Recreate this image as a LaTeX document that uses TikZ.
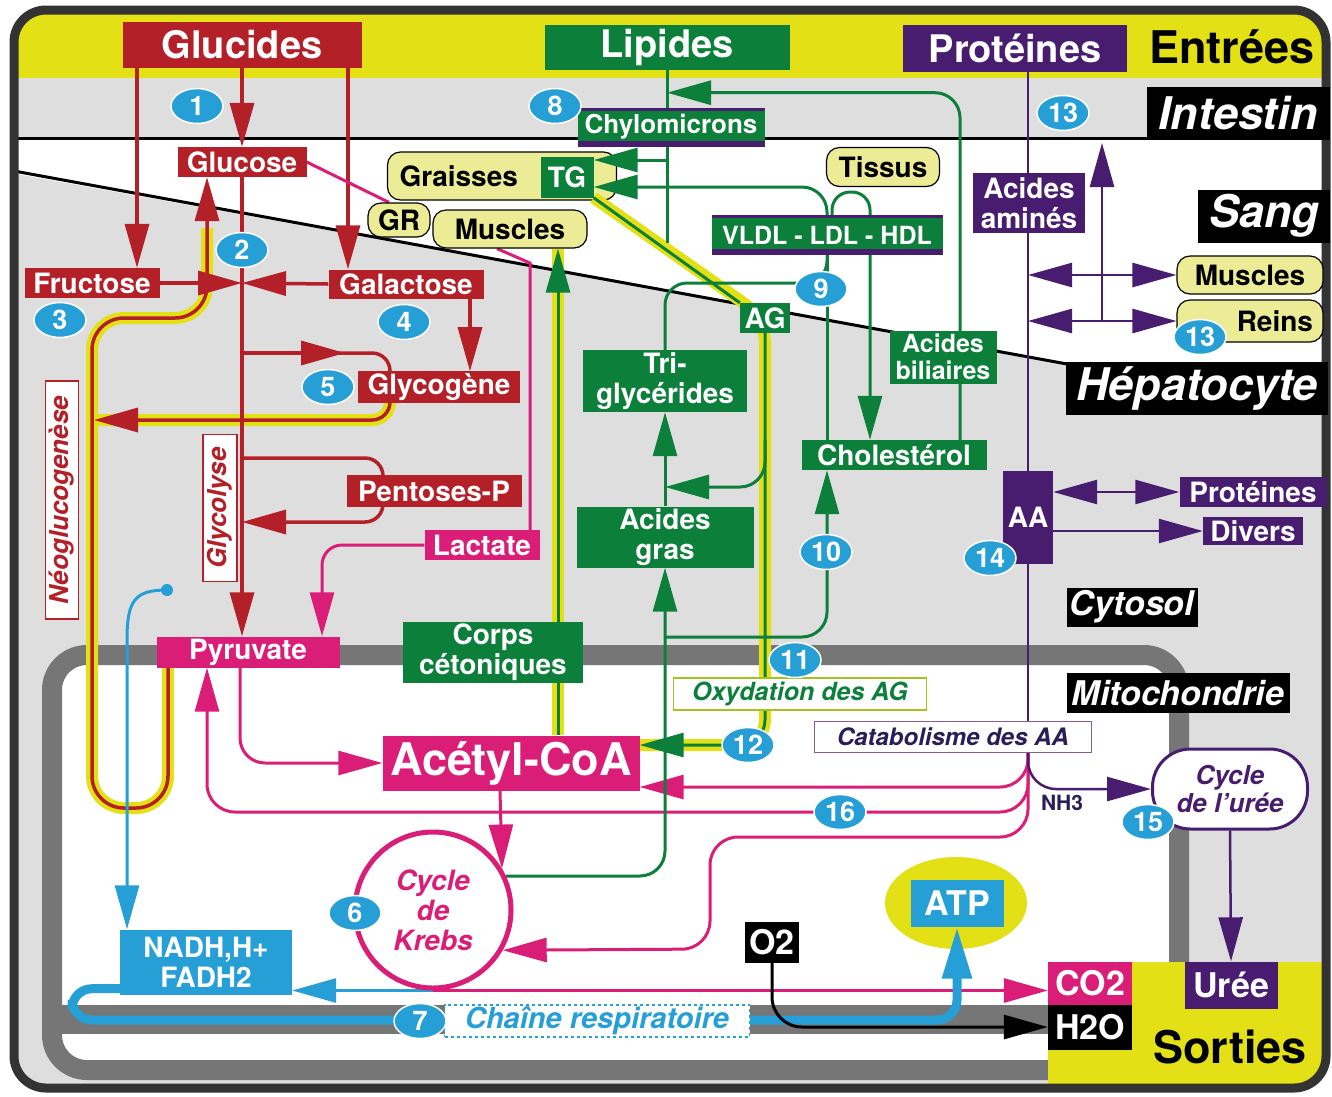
\documentclass[tikz,border=0pt]{standalone}
\usepackage{fontspec}
\setmainfont{TeX Gyre Heros}
\usetikzlibrary{shapes,arrows.meta,backgrounds,positioning}

\definecolor{glred}{RGB}{180,32,40}
\definecolor{lipgreen}{RGB}{12,128,58}
\definecolor{protpurple}{RGB}{72,28,110}
\definecolor{magent}{RGB}{218,30,120}
\definecolor{numblue}{RGB}{38,158,214}
\definecolor{bandyellow}{RGB}{228,224,22}
\definecolor{paleyellow}{RGB}{236,236,150}
\definecolor{cytogrey}{RGB}{222,222,222}
\definecolor{membgrey}{RGB}{118,118,118}
\definecolor{navy}{RGB}{40,30,90}

\newcommand{\ftitle}{\fontsize{38}{40}\selectfont\bfseries}
\newcommand{\fbig}{\fontsize{45}{47}\selectfont\bfseries}
\newcommand{\fzone}{\fontsize{45}{47}\selectfont\bfseries\itshape}
\newcommand{\fcomp}{\fontsize{34}{36}\selectfont\bfseries\itshape}
\newcommand{\fmid}{\fontsize{34}{36}\selectfont\bfseries}
\newcommand{\flab}{\fontsize{28}{30}\selectfont\bfseries}
\newcommand{\flipo}{\fontsize{25}{27}\selectfont\bfseries}
\newcommand{\fproc}{\fontsize{25}{27}\selectfont\bfseries\itshape}
\newcommand{\fvert}{\fontsize{26}{28}\selectfont\bfseries\itshape}
\newcommand{\fkrebs}{\fontsize{28}{30}\selectfont\bfseries\itshape}
\newcommand{\fnum}{\fontsize{27}{27}\selectfont\bfseries}
\newcommand{\fnh}{\fontsize{21}{23}\selectfont\bfseries}

\pgfdeclarelayer{bg}
\pgfdeclarelayer{lines}
\pgfsetlayers{bg,lines,main}

\tikzstyle{box} = [rectangle, inner sep=2pt, text=white, align=center, font=\flab]
\tikzstyle{GL} = [box, fill=glred]
\tikzstyle{LI} = [box, fill=lipgreen]
\tikzstyle{LIPO} = [LI, font=\flipo, path picture={
    \fill[protpurple] (path picture bounding box.north west) rectangle ([yshift=-3pt]path picture bounding box.north east);
    \fill[protpurple] ([yshift=6pt]path picture bounding box.south west) rectangle (path picture bounding box.south east);}]
\tikzstyle{PR} = [box, fill=protpurple]
\tikzstyle{MA} = [box, fill=magent]
\tikzstyle{BL} = [box, fill=numblue]
\tikzstyle{BK} = [box, fill=black]
\tikzstyle{zone} = [box, fill=black, font=\fzone]
\tikzstyle{compart} = [box, fill=black, font=\fcomp]
\tikzstyle{organ} = [rectangle, rounded corners=13pt, draw=black, line width=1.2pt,
    fill=paleyellow, font=\flab, inner sep=2pt]
\tikzstyle{num} = [ellipse, fill=numblue, draw=white, line width=1.5pt, text=white,
    font=\fnum, minimum width=52pt, minimum height=35pt, inner sep=0pt]
\tikzstyle{tag} = [rectangle, fill=white, line width=1.2pt, inner sep=2pt]
\tikzstyle{line} = [draw, line width=3pt, -{Triangle[length=44pt,width=24pt]}]
\tikzstyle{rline} = [line, glred, line width=3.5pt]
\tikzstyle{gline} = [line, lipgreen]
\tikzstyle{pline} = [line, protpurple, line width=2.5pt]
\tikzstyle{dline} = [pline, {Triangle[length=44pt,width=24pt]}-{Triangle[length=44pt,width=24pt]}]
\tikzstyle{mline} = [line, magent]
\tikzstyle{bline} = [line, numblue]
\tikzstyle{kline} = [line, black]
\tikzstyle{hl} = [draw, bandyellow, line width=12pt]

\begin{document}
\begin{tikzpicture}[x=1pt, y=-1pt]
\useasboundingbox (0,0) rectangle (1332,1096);

 \node at (242,45) [GL, font=\ftitle, minimum width=239pt, minimum height=46pt, name=glucides] {Glucides};
 \node at (667,47) [LI, font=\ftitle, minimum width=245pt, minimum height=45pt, name=lipides] {Lipides};
 \node at (1015,48) [PR, font=\ftitle, minimum width=224pt, minimum height=47pt, name=proteines] {Protéines};
 \node at (1232,47) [font=\fbig, name=entrees] {Entrées};
 \node at (1238,113) [zone, minimum width=183pt, minimum height=53pt, name=intestin] {Intestin};
 \node at (1264,216) [zone, minimum width=132pt, minimum height=53pt, name=sang] {Sang};
 \node at (1197,388) [zone, minimum width=262pt, minimum height=53pt, name=hepato] {Hépatocyte};
 \node at (1132,607) [compart, minimum width=131pt, minimum height=39pt, name=cytosol] {Cytosol};
 \node at (1178,693) [compart, minimum width=223pt, minimum height=40pt, name=mito] {Mitochondrie};
 \node at (1230,1047) [font=\fbig, name=sorties] {Sorties};

 \node at (242,162) [GL, minimum width=129pt, minimum height=30pt, name=glucose] {Glucose};
 \node at (92,283) [GL, minimum width=135pt, minimum height=30pt, name=fructose] {Fructose};
 \node at (406,284) [GL, minimum width=155pt, minimum height=29pt, name=galacto] {Galactose};
 \node at (439,387) [GL, minimum width=162pt, minimum height=30pt, name=glycogene] {Glycogène};
 \node at (434,491) [GL, minimum width=175pt, minimum height=32pt, name=pentoses] {Pentoses-P};
 \node at (482,545) [MA, minimum width=115pt, minimum height=30pt, name=lactate] {Lactate};
 \node at (248,652) [MA, minimum width=183pt, minimum height=31pt, name=pyruvate] {Pyruvate};
 \node at (62,500) [tag, rotate=90, draw=glred, text=glred, font=\fvert, minimum width=238pt, minimum height=33pt, name=neo] {Néoglucogenèse};
 \node at (220,508) [tag, rotate=90, draw=glred, text=glred, font=\fvert, minimum width=147pt, minimum height=34pt, name=glyco] {Glycolyse};

 \node at (567,177) [LI, minimum width=53pt, minimum height=41pt, name=tg] {TG};
 \node at (399,220) [organ, minimum width=62pt, minimum height=34pt, name=gr] {GR};
 \node at (510,229) [organ, minimum width=154pt, minimum height=38pt, name=musclesg] {Muscles};
 \node at (671,127) [LIPO, font=\fontsize{26}{28}\selectfont\bfseries, minimum width=187pt, minimum height=39pt, name=chylo] {Chylomicrons};
 \node at (883,167) [organ, minimum width=113pt, minimum height=39pt, name=tissus] {Tissus};
 \node at (827,235) [LIPO, minimum width=231pt, minimum height=40pt, name=vldl] {VLDL - LDL - HDL};
 \node at (765,318) [LI, minimum width=50pt, minimum height=30pt, name=ag] {AG};
 \node at (665,381) [LI, minimum width=164pt, minimum height=62pt, name=trigly] {Tri-\\glycérides};
 \node at (665,537) [LI, minimum width=177pt, minimum height=61pt, name=acgras] {Acides\\gras};
 \node at (493,652) [LI, minimum width=180pt, minimum height=61pt, name=corps] {Corps\\cétoniques};
 \node at (894,455) [LI, minimum width=185pt, minimum height=30pt, name=chol] {Cholestérol};
 \node at (943,357) [LI, font=\flipo, minimum width=107pt, minimum height=53pt, name=biliaires] {Acides\\biliaires};

 \node at (1029,203) [PR, minimum width=112pt, minimum height=60pt, name=acam] {Acides\\aminés};
 \node at (1250,275) [organ, minimum width=146pt, minimum height=38pt, name=musclesd] {Muscles};
 \node at (1250,321) [organ, text width=126pt, inner xsep=10pt, align=right, minimum height=42pt, name=reins] {Reins};
 \node at (1028,517) [PR, minimum width=50pt, minimum height=93pt, name=aa] {AA};
 \node at (1253,492) [PR, minimum width=147pt, minimum height=30pt, name=protd] {Protéines};
 \node at (1253,531) [PR, minimum width=100pt, minimum height=28pt, name=divers] {Divers};
 \node at (953,737) [tag, draw=protpurple!70, text=navy, font=\fontsize{24}{26}\selectfont\bfseries\itshape, minimum width=277pt, minimum height=31pt, name=catab] {Catabolisme des AA};
 \node at (800,694) [tag, draw=bandyellow!70!lipgreen, text=lipgreen, font=\fproc, minimum width=253pt, minimum height=32pt, name=oxyd] {Oxydation des AG};
 \node at (1230,789) [rectangle, rounded corners=38pt, draw=protpurple, line width=3pt, fill=white, minimum width=155pt, minimum height=80pt, align=center, text=protpurple, font=\fontsize{26}{28}\selectfont\bfseries\itshape, name=cycuree] {Cycle\\de l'urée};
 \node at (1062,803) [font=\fnh, text=navy, name=nh3] {NH3};

 \node at (511,763) [MA, font=\fbig, minimum width=257pt, minimum height=55pt, name=acetyl] {Acétyl-CoA};
 \node at (433,910) [circle, draw=magent, line width=5pt, fill=white, minimum size=156pt, align=center, text=magent, font=\fkrebs, name=krebs] {Cycle\\de\\Krebs};
 \node at (206,962) [BL, minimum width=172pt, minimum height=65pt, name=nadh] {NADH,H+\\FADH2};
 \node at (597,1021) [tag, draw=numblue, dashed, text=numblue, font=\fontsize{29}{31}\selectfont\bfseries\itshape, minimum width=305pt, minimum height=32pt, name=chaine] {Chaîne respiratoire};
 \node at (957,903) [BL, font=\fmid, minimum width=93pt, minimum height=47pt, name=atp] {ATP};
 \node at (772,942) [BK, font=\fmid, minimum width=54pt, minimum height=41pt, name=o2] {O2};
 \node at (1090,983) [MA, font=\fmid, minimum width=84pt, minimum height=43pt, name=co2] {CO2};
 \node at (1090,1027) [BK, font=\fmid, minimum width=84pt, minimum height=45pt, name=h2o] {H2O};
 \node at (1231,985) [PR, font=\fmid, minimum width=93pt, minimum height=47pt, name=uree] {Urée};

 \node at (197,106) [num, name=n1] {1};
 \node at (242,250) [num, name=n2] {2};
 \node at (60,320) [num, name=n3] {3};
 \node at (404,322) [num, name=n4] {4};
 \node at (328,387) [num, name=n5] {5};
 \node at (355,913) [num, name=n6] {6};
 \node at (420,1021) [num, name=n7] {7};
 \node at (555,106) [num, name=n8] {8};
 \node at (821,289) [num, name=n9] {9};
 \node at (826,552) [num, name=n10] {10};
 \node at (795,660) [num, name=n11] {11};
 \node at (748,745) [num, name=n12] {12};
 \node at (1063,113) [num, name=n13a] {13};
 \node at (1200,337) [num, name=n13b] {13};
 \node at (990,558) [num, name=n14] {14};
 \node at (1148,822) [num, name=n15] {15};
 \node at (840,812) [num, name=n16] {16};

 \coordinate (jct) at (242,283);
 \coordinate (glyg) at (242,353);
 \coordinate (glygtip) at (345,353);
 \coordinate (pent1) at (242,458);
 \coordinate (pent2) at (242,522);
 \coordinate (neox) at (94,420);
 \coordinate (bdot) at (167,590);
 \coordinate (agb) at (765,440);
 \coordinate (tgfa) at (665,487);
 \coordinate (fachol) at (665,637);
 \coordinate (lipend) at (667,243);
 \coordinate (int13) at (1102,143);
 \coordinate (cata) at (aa.south |- catab.south);

\begin{pgfonlayer}{bg}
 \begin{scope}
  \clip [rounded corners=32pt] (14,10) rectangle (1326,1088);
  \fill [cytogrey] (0,0) rectangle (1332,1096);
  \fill [bandyellow] (0,0) rectangle (1332,78);
  \fill [white] (0,140) -- (1332,140) -- (1332,363) -- (1065,363) -- (0,171) -- cycle;
  \draw [membgrey, line width=20pt, fill=white, rounded corners=35pt] (52,655) rectangle (1179,1070);
  \fill [membgrey] (62,1005) rectangle (1050,1034);
  \fill [bandyellow] (1048,962) rectangle (1332,1096);
 \end{scope}
 \draw [line width=3pt] (14,138) -- (1326,138);
 \draw [line width=3pt] (14,171) -- (1067,364);
 \draw [black!80, line width=9pt, rounded corners=32pt] (14,10) rectangle (1326,1088);
 \node at (956,903) [ellipse, fill=bandyellow, minimum width=142pt, minimum height=92pt, name=atpell] {};
 \node at (502,176) [organ, text width=205pt, inner xsep=12pt, align=left, minimum height=48pt, name=graisses] {Graisses};
\end{pgfonlayer}

\begin{pgfonlayer}{lines}
 \path [hl, rounded corners=32pt] ([xshift=-80pt]pyruvate.south) -- (168,808) -- (92,808) -- (92,318) -- (207,318) -- (207,228);
 \path [hl, rounded corners=18pt] ([xshift=-49pt]glycogene.south) |- (neox);
 \path [hl, rounded corners=25pt] (tg.south east) -- (ag.center) |- ([yshift=18pt]acetyl.east);
 \path [hl] ([xshift=47pt]acetyl.north) -- ([xshift=47pt]acetyl.north |- musclesg.south);

 \path [rline] ([xshift=45pt]fructose.north |- glucides.south) -- ([xshift=45pt]fructose.north);
 \path [rline] (glucides.south) -- (glucose.north);
 \path [rline] ([xshift=-58pt]galacto.north |- glucides.south) -- ([xshift=-58pt]galacto.north);
 \path [rline] (glucose.south) -- (glucose.south |- pyruvate.north);
 \path [rline] (fructose.east) -- (jct);
 \path [rline] (galacto.west) -- (jct);
 \path [rline] ([xshift=64pt]galacto.south) -- ([xshift=64pt]galacto.south |- glycogene.north);
 \path [rline] (glyg) -- (glygtip);
 \path [rline, -, rounded corners=18pt] (glyg) -| ([xshift=-49pt]glycogene.north);
 \path [rline, rounded corners=18pt] ([xshift=-49pt]glycogene.south) |- (neox);
 \path [rline, rounded corners=32pt] ([xshift=-80pt]pyruvate.south) -- (168,808) -- (92,808) -- (92,318) -- (207,318) -- ([xshift=-35pt]glucose.south);
 \path [rline, rounded corners=18pt] (pent1) -- ([xshift=-51pt]pentoses.north |- pent1) -- ([xshift=-51pt]pentoses.north |- pent2) -- (pent2);

 \path [mline, -] (glucose.east) -- ([xshift=-10pt]gr.north);
 \path [mline, -] ([xshift=-13pt]musclesg.south) -- (530,263) -- ([xshift=48pt]lactate.north);
 \path [mline, rounded corners=20pt] (lactate.west) -| ([xshift=74pt]pyruvate.north);
 \path [mline, rounded corners=25pt] ([xshift=-8pt]pyruvate.south) |- (acetyl.west);
 \path [mline] ([xshift=-11pt]acetyl.south) -- (krebs.31);
 \path [mline, rounded corners=28pt] (cata) |- ([yshift=-24pt]acetyl.east);
 \path [mline, rounded corners=28pt] (cata) -- (1028,812) -- (207,812) -- ([xshift=-41pt]pyruvate.south);
 \path [mline, rounded corners=28pt] (cata) -- (1028,837) -- (710,837) -- (710,949) -- (krebs.-30);
 \path [mline] (krebs.south) -- (krebs.south -| co2.west);

 \fill [numblue] (bdot) circle (6pt);
 \path [bline] (bdot) .. controls (135,590) and (127,600) .. (127,640) -- ([xshift=-79pt]nadh.north);
 \path [bline] (krebs.south) -- (krebs.south -| nadh.east);
 \path [bline, line width=9pt, rounded corners=20pt, -{Triangle[length=52pt,width=28pt]}] ([yshift=6pt]nadh.south west) -| (72,1020) -- (957,1020) -- (atp.south);
 \path [kline, rounded corners=30pt] (o2.south) |- (h2o.west);

 \path [pline, -] (aa.north |- proteines.south) -- (cata);
 \path [dline] (aa.north |- musclesd.west) -- (musclesd.west);
 \path [dline] (aa.north |- reins.west) -- (reins.west);
 \path [pline] (int13 |- reins.west) -- (int13);
 \path [dline] (aa.east |- protd.west) -- (protd.west);
 \path [pline] (aa.east |- divers.west) -- (divers.west);
 \path [pline, rounded corners=28pt] (cata) |- (cycuree.west);
 \path [pline] (cycuree.south) -- (uree.north);

 \path [gline, -] (lipides.south) -- (lipend);
 \path [gline] ([yshift=17pt]tg.east -| lipides.south) -- ([yshift=17pt]tg.east);
 \path [gline, rounded corners=25pt] (vldl.north) |- ([yshift=-10pt]tg.east);
 \path [gline, rounded corners=18pt] ([xshift=5pt]vldl.north) -- (832,192) -- (870,192) -- ([xshift=-24pt]chol.north);
 \path [gline, -] (tg.south east) -- (ag.north west);
 \path [gline, rounded corners=25pt] (ag.south) |- ([yshift=18pt]acetyl.east);
 \path [gline, rounded corners=25pt] (agb) |- (tgfa);
 \path [gline] (acgras.north) -- (trigly.south);
 \path [gline, -, rounded corners=22pt] (trigly.north) -- (665,283) -- (827,283) -- (vldl.south);
 \path [gline, -] (vldl.south) -- ([xshift=-67pt]chol.north);
 \path [gline, rounded corners=25pt] ([xshift=66pt]chol.north) |- ([yshift=-23pt]lipides.south);
 \path [gline, rounded corners=25pt] (krebs.25) -| (acgras.south);
 \path [gline, rounded corners=25pt] (fachol) -| ([xshift=-67pt]chol.south);
 \path [gline] ([xshift=47pt]acetyl.north) -- ([xshift=47pt]acetyl.north |- musclesg.south);
\end{pgfonlayer}
\end{tikzpicture}
\end{document}
